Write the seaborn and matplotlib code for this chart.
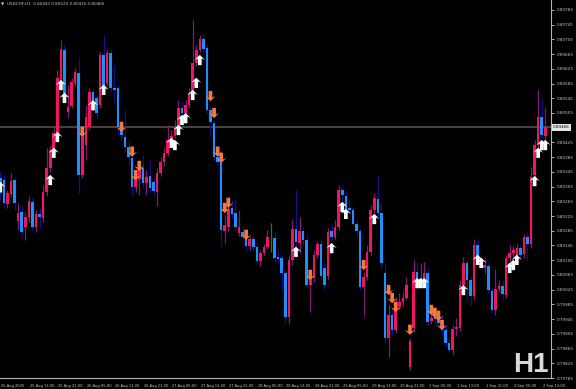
import numpy as np
import pandas as pd
import matplotlib
matplotlib.use("Agg")
import matplotlib.pyplot as plt
import matplotlib.transforms as mtransforms
from matplotlib.path import Path
from matplotlib.markers import MarkerStyle
import seaborn as sns

# ---------------- data (USDCHF H1) ----------------
opens = [0.80328, 0.80323, 0.80258, 0.80285, 0.80323, 0.80211, 0.80237, 0.80195, 0.80223, 0.80264,
         0.80195, 0.80231, 0.80220, 0.80291, 0.80355, 0.80405, 0.80451, 0.80590, 0.80676, 0.80508,
         0.80524, 0.80587, 0.80614, 0.80336, 0.80418, 0.80467, 0.80563, 0.80546, 0.80526, 0.80662,
         0.80587, 0.80668, 0.80573, 0.80573, 0.80467, 0.80440, 0.80413, 0.80383, 0.80304, 0.80326,
         0.80355, 0.80315, 0.80334, 0.80318, 0.80291, 0.80342, 0.80372, 0.80397, 0.80427, 0.80443,
         0.80464, 0.80518, 0.80505, 0.80526, 0.80560, 0.80641, 0.80676, 0.80706, 0.80681, 0.80513,
         0.80478, 0.80386, 0.80372, 0.80185, 0.80195, 0.80247, 0.80234, 0.80179, 0.80182, 0.80168,
         0.80144, 0.80163, 0.80140, 0.80103, 0.80125, 0.80140, 0.80166, 0.80166, 0.80114, 0.80111,
         0.80071, 0.79951, 0.80106, 0.80190, 0.80152, 0.80185, 0.80160, 0.80038, 0.80057, 0.80120,
         0.80149, 0.80084, 0.80063, 0.80185, 0.80168, 0.80195, 0.80296, 0.80280, 0.80247, 0.80242,
         0.80203, 0.80185, 0.80032, 0.80060, 0.80128, 0.80242, 0.80271, 0.80234, 0.80071, 0.79894,
         0.79956, 0.79916, 0.79978, 0.79992, 0.80002, 0.79815, 0.79921, 0.80073, 0.80049, 0.80046,
         0.80071, 0.79940, 0.79951, 0.79951, 0.79943, 0.79916, 0.79880, 0.79861, 0.79918, 0.79921,
         0.80038, 0.80098, 0.80051, 0.80008, 0.80147, 0.80106, 0.80084, 0.80090, 0.80021, 0.79970,
         0.80027, 0.80035, 0.80011, 0.80111, 0.80125, 0.80114, 0.80139, 0.80122, 0.80168, 0.80149,
         0.80336, 0.80418, 0.80494, 0.80443]
highs = [0.80345, 0.80336, 0.80296, 0.80342, 0.80328, 0.80261, 0.80255, 0.80237, 0.80280, 0.80274,
         0.80242, 0.80247, 0.80309, 0.80410, 0.80418, 0.80464, 0.80622, 0.80703, 0.80689, 0.80581,
         0.80600, 0.80627, 0.80657, 0.80464, 0.80526, 0.80573, 0.80573, 0.80554, 0.80671, 0.80717,
         0.80676, 0.80676, 0.80635, 0.80581, 0.80486, 0.80513, 0.80432, 0.80405, 0.80350, 0.80377,
         0.80391, 0.80350, 0.80377, 0.80328, 0.80355, 0.80386, 0.80410, 0.80472, 0.80459, 0.80486,
         0.80540, 0.80535, 0.80540, 0.80573, 0.80758, 0.80689, 0.80717, 0.80723, 0.80689, 0.80521,
         0.80486, 0.80400, 0.80377, 0.80228, 0.80269, 0.80269, 0.80271, 0.80242, 0.80198, 0.80182,
         0.80171, 0.80174, 0.80149, 0.80133, 0.80149, 0.80187, 0.80206, 0.80182, 0.80133, 0.80120,
         0.80079, 0.80120, 0.80214, 0.80296, 0.80223, 0.80193, 0.80174, 0.80073, 0.80133, 0.80157,
         0.80160, 0.80101, 0.80193, 0.80198, 0.80214, 0.80309, 0.80307, 0.80291, 0.80269, 0.80250,
         0.80214, 0.80193, 0.80073, 0.80147, 0.80255, 0.80288, 0.80336, 0.80264, 0.80098, 0.79984,
         0.79975, 0.80005, 0.80016, 0.80019, 0.80060, 0.79894, 0.80106, 0.80101, 0.80098, 0.80101,
         0.80084, 0.79984, 0.79970, 0.79962, 0.79956, 0.79929, 0.79894, 0.79929, 0.79948, 0.80051,
         0.80114, 0.80106, 0.80063, 0.80163, 0.80160, 0.80120, 0.80111, 0.80101, 0.80030, 0.80082,
         0.80051, 0.80051, 0.80120, 0.80147, 0.80144, 0.80149, 0.80147, 0.80176, 0.80182, 0.80358,
         0.80432, 0.80568, 0.80546, 0.80520]
lows = [0.80269, 0.80247, 0.80247, 0.80277, 0.80242, 0.80187, 0.80171, 0.80160, 0.80209, 0.80187,
        0.80182, 0.80193, 0.80209, 0.80280, 0.80345, 0.80391, 0.80445, 0.80581, 0.80540, 0.80491,
        0.80518, 0.80579, 0.80288, 0.80328, 0.80377, 0.80459, 0.80521, 0.80491, 0.80518, 0.80563,
        0.80579, 0.80563, 0.80535, 0.80445, 0.80432, 0.80400, 0.80364, 0.80282, 0.80291, 0.80282,
        0.80301, 0.80282, 0.80291, 0.80282, 0.80253, 0.80334, 0.80361, 0.80389, 0.80418, 0.80437,
        0.80459, 0.80497, 0.80497, 0.80518, 0.80554, 0.80633, 0.80671, 0.80671, 0.80505, 0.80440,
        0.80377, 0.80364, 0.80140, 0.80152, 0.80182, 0.80220, 0.80187, 0.80171, 0.80160, 0.80133,
        0.80133, 0.80133, 0.80098, 0.80090, 0.80117, 0.80136, 0.80128, 0.80101, 0.80101, 0.80024,
        0.79935, 0.79932, 0.80092, 0.80140, 0.80125, 0.80147, 0.80030, 0.79965, 0.80046, 0.80111,
        0.80051, 0.80024, 0.80051, 0.80160, 0.80160, 0.80187, 0.80269, 0.80237, 0.80231, 0.80198,
        0.80174, 0.80024, 0.79954, 0.80051, 0.80120, 0.80234, 0.80225, 0.80084, 0.79880, 0.79842,
        0.79902, 0.79908, 0.79970, 0.79981, 0.79997, 0.79807, 0.79910, 0.80024, 0.80038, 0.80035,
        0.79927, 0.79932, 0.79932, 0.79921, 0.79902, 0.79869, 0.79856, 0.79848, 0.79899, 0.79913,
        0.80030, 0.79997, 0.79984, 0.79997, 0.80092, 0.80079, 0.80071, 0.80016, 0.79962, 0.79956,
        0.80019, 0.79997, 0.80002, 0.80101, 0.80101, 0.80106, 0.80111, 0.80111, 0.80106, 0.80138,
        0.80328, 0.80410, 0.80437, 0.80416]
closes = [0.80288, 0.80261, 0.80288, 0.80320, 0.80261, 0.80234, 0.80182, 0.80223, 0.80266, 0.80195,
          0.80231, 0.80223, 0.80291, 0.80355, 0.80405, 0.80451, 0.80600, 0.80679, 0.80549, 0.80521,
          0.80590, 0.80617, 0.80336, 0.80454, 0.80494, 0.80563, 0.80532, 0.80505, 0.80662, 0.80576,
          0.80668, 0.80573, 0.80568, 0.80467, 0.80445, 0.80413, 0.80386, 0.80304, 0.80328, 0.80355,
          0.80315, 0.80331, 0.80301, 0.80293, 0.80342, 0.80372, 0.80397, 0.80432, 0.80443, 0.80467,
          0.80518, 0.80505, 0.80526, 0.80560, 0.80641, 0.80676, 0.80706, 0.80679, 0.80513, 0.80481,
          0.80386, 0.80372, 0.80187, 0.80201, 0.80244, 0.80231, 0.80195, 0.80195, 0.80168, 0.80144,
          0.80163, 0.80140, 0.80103, 0.80125, 0.80140, 0.80168, 0.80166, 0.80111, 0.80109, 0.80071,
          0.79951, 0.80106, 0.80190, 0.80155, 0.80185, 0.80160, 0.80038, 0.80057, 0.80120, 0.80149,
          0.80063, 0.80038, 0.80182, 0.80168, 0.80195, 0.80296, 0.80282, 0.80244, 0.80242, 0.80203,
          0.80185, 0.80032, 0.80060, 0.80128, 0.80242, 0.80274, 0.80234, 0.80098, 0.79894, 0.79956,
          0.79916, 0.79992, 0.79992, 0.80002, 0.80038, 0.79886, 0.80073, 0.80046, 0.80054, 0.80071,
          0.79937, 0.79948, 0.79946, 0.79935, 0.79916, 0.79880, 0.79861, 0.79918, 0.79924, 0.80038,
          0.80098, 0.80051, 0.80008, 0.80147, 0.80106, 0.80090, 0.80092, 0.80024, 0.79970, 0.80027,
          0.80035, 0.80013, 0.80111, 0.80125, 0.80133, 0.80139, 0.80120, 0.80168, 0.80149, 0.80331,
          0.80418, 0.80494, 0.80445, 0.80466]

# buy (white up) and sell (orange down) signal arrows: bar index and price
buy_bars = [0, 14, 15, 16, 17, 18, 26, 29, 48, 49, 50, 51, 52, 54, 55, 56, 83, 93, 96, 97,
            105, 117, 118, 119, 130, 134, 135, 143, 144, 145, 150, 151, 152, 153]
buy_prices = [0.80304, 0.80323, 0.80397, 0.80440, 0.80581, 0.80546, 0.80526, 0.80568, 0.80424, 0.80418,
              0.80459, 0.80486, 0.80491, 0.80554, 0.80587, 0.80649, 0.80128, 0.80138, 0.80250, 0.80231,
              0.80217, 0.80043, 0.80043, 0.80043, 0.80024, 0.80106, 0.80098, 0.80084, 0.80092, 0.80106,
              0.80320, 0.80397, 0.80418, 0.80418]
sell_bars = [23, 34, 37, 38, 39, 59, 60, 61, 62, 63, 64, 69, 87, 102, 109, 110, 111, 115,
             121, 122, 123, 124]
sell_prices = [0.80454, 0.80467, 0.80400, 0.80336, 0.80361, 0.80551, 0.80505, 0.80400, 0.80383, 0.80247,
               0.80261, 0.80174, 0.80065, 0.80092, 0.80024, 0.80002, 0.79978, 0.79916,
               0.79970, 0.79962, 0.79954, 0.79929]

price_ticks = [0.80785, 0.80745, 0.80705, 0.80665, 0.80625, 0.80585, 0.80545, 0.80505,
               0.80425, 0.80385, 0.80345, 0.80305, 0.80265, 0.80225, 0.80185, 0.80145,
               0.80105, 0.80065, 0.80025, 0.79985, 0.79945, 0.79905, 0.79865, 0.79825, 0.79785]
date_ticks = [0, 8, 16, 24, 32, 40, 48, 56, 64, 72, 80, 88, 96, 104, 112, 120, 128, 136, 144, 152]
date_labels = ["25 Aug 2025", "25 Aug 13:00", "25 Aug 21:00", "26 Aug 05:00", "26 Aug 13:00",
               "26 Aug 21:00", "27 Aug 05:00", "27 Aug 13:00", "27 Aug 21:00", "28 Aug 05:00",
               "28 Aug 13:00", "28 Aug 21:00", "29 Aug 05:00", "29 Aug 13:00", "29 Aug 21:00",
               "1 Sep 05:00", "1 Sep 13:00", "1 Sep 21:00", "2 Sep 05:00", "2 Sep 13:00"]
last_price = 0.80466
title_text = "USDCHF,H1  0.80443 0.80520 0.80416 0.80466"
period_text = "H1"

# ---------------- styling ----------------
BULL = "#F2145C"
BEAR = "#1E8FFF"
BULL_WICK = "#7A1C78"
BEAR_WICK = "#10128C"
DOJI = "#0E8A12"
AXC = "#C8C8C8"

sns.set_style("dark")
plt.rcParams["font.family"] = ["DejaVu Sans"]

df = pd.DataFrame({"bar": np.arange(len(opens)), "open": opens, "high": highs,
                   "low": lows, "close": closes})
bull = df["close"] > df["open"]
bear = df["close"] < df["open"]
body_col = np.where(bull, BULL, np.where(bear, BEAR, DOJI))
wick_col = np.where(bull, BULL_WICK, np.where(bear, BEAR_WICK, DOJI))

fig = plt.figure(figsize=(5.76, 3.89), dpi=100, facecolor="black")
ax = fig.add_axes([0, 11 / 389, 551 / 576, 378 / 389])
ax.set_facecolor("black")

# current price line
ax.axhline(last_price, color="#4A4A4A", lw=1.3, zorder=1)

# wicks
ax.vlines(df["bar"], df["low"], df["high"], colors=wick_col, linewidth=0.9, zorder=2)
# bodies
bottoms = np.minimum(df["open"], df["close"])
heights = np.maximum((df["close"] - df["open"]).abs(), 0.000012)
body_mask = bull | bear
ax.bar(df["bar"][body_mask], heights[body_mask], bottom=bottoms[body_mask], width=0.72,
       color=body_col[body_mask], linewidth=0, zorder=3)

# arrow markers
up_path = Path([(0, 1), (1, 0), (0.36, 0.3), (0.36, -1), (-0.36, -1), (-0.36, 0.3), (-1, 0), (0, 1)],
               [Path.MOVETO] + [Path.LINETO] * 6 + [Path.CLOSEPOLY])
dn_path = Path([(0, -1), (1, 0), (0.36, -0.3), (0.36, 1), (-0.36, 1), (-0.36, -0.3), (-1, 0), (0, -1)],
               [Path.MOVETO] + [Path.LINETO] * 6 + [Path.CLOSEPOLY])
sns.scatterplot(x=buy_bars, y=buy_prices, marker=MarkerStyle(up_path), s=55, color="white",
                edgecolor="none", linewidth=0, ax=ax, legend=False, zorder=5)
sns.scatterplot(x=sell_bars, y=sell_prices, marker=MarkerStyle(dn_path), s=55, color="#F5793F",
                edgecolor="none", linewidth=0, ax=ax, legend=False, zorder=5)

ax.set_xlim(-0.1, 154.6)
ax.set_ylim(0.79785, 0.80812)

# axes / ticks
for side in ("left", "top"):
    ax.spines[side].set_visible(False)
for side in ("right", "bottom"):
    ax.spines[side].set_visible(True)
    ax.spines[side].set_color("#B4B4B4")
    ax.spines[side].set_linewidth(0.8)
ax.grid(False)
ax.yaxis.tick_right()
ax.set_yticks(price_ticks)
ax.set_yticklabels([f"{p:.5f}" for p in price_ticks])
ax.tick_params(axis="y", direction="out", length=2, width=0.6, colors=AXC, labelsize=3.0, pad=2)
ax.set_xticks(date_ticks)
ax.set_xticklabels(date_labels)
ax.tick_params(axis="x", direction="out", length=3.5, width=0.6, colors=AXC, labelsize=2.6, pad=0.8)
offset = mtransforms.ScaledTranslation(1.0 / 100, 0, fig.dpi_scale_trans)
for lbl in ax.get_xticklabels():
    lbl.set_horizontalalignment("left")
    lbl.set_transform(lbl.get_transform() + offset)
ax.set_xlabel("")
ax.set_ylabel("")

# current price label box
ax.text(1.0 + 2 / 551, last_price, f"{last_price:.5f}", transform=ax.get_yaxis_transform(),
        ha="left", va="center", fontsize=3.0, color="black", zorder=6, clip_on=False,
        bbox=dict(facecolor="#E6E6E6", edgecolor="none", boxstyle="square,pad=0.35"))

# title and period watermark
fig.text(1 / 576, 1 - 4 / 389, "\u25BC", fontsize=3, color=AXC, va="center", ha="left")
fig.text(7 / 576, 1 - 4 / 389, title_text, fontsize=3.0, color=AXC, va="center", ha="left")
fig.text(549 / 576, 1 - 372 / 389, period_text, fontsize=20, color="#D9D9D9",
         ha="right", va="baseline", fontweight="bold", family=["Liberation Sans", "DejaVu Sans"])

fig.savefig("out.png", dpi=100, facecolor="black")
